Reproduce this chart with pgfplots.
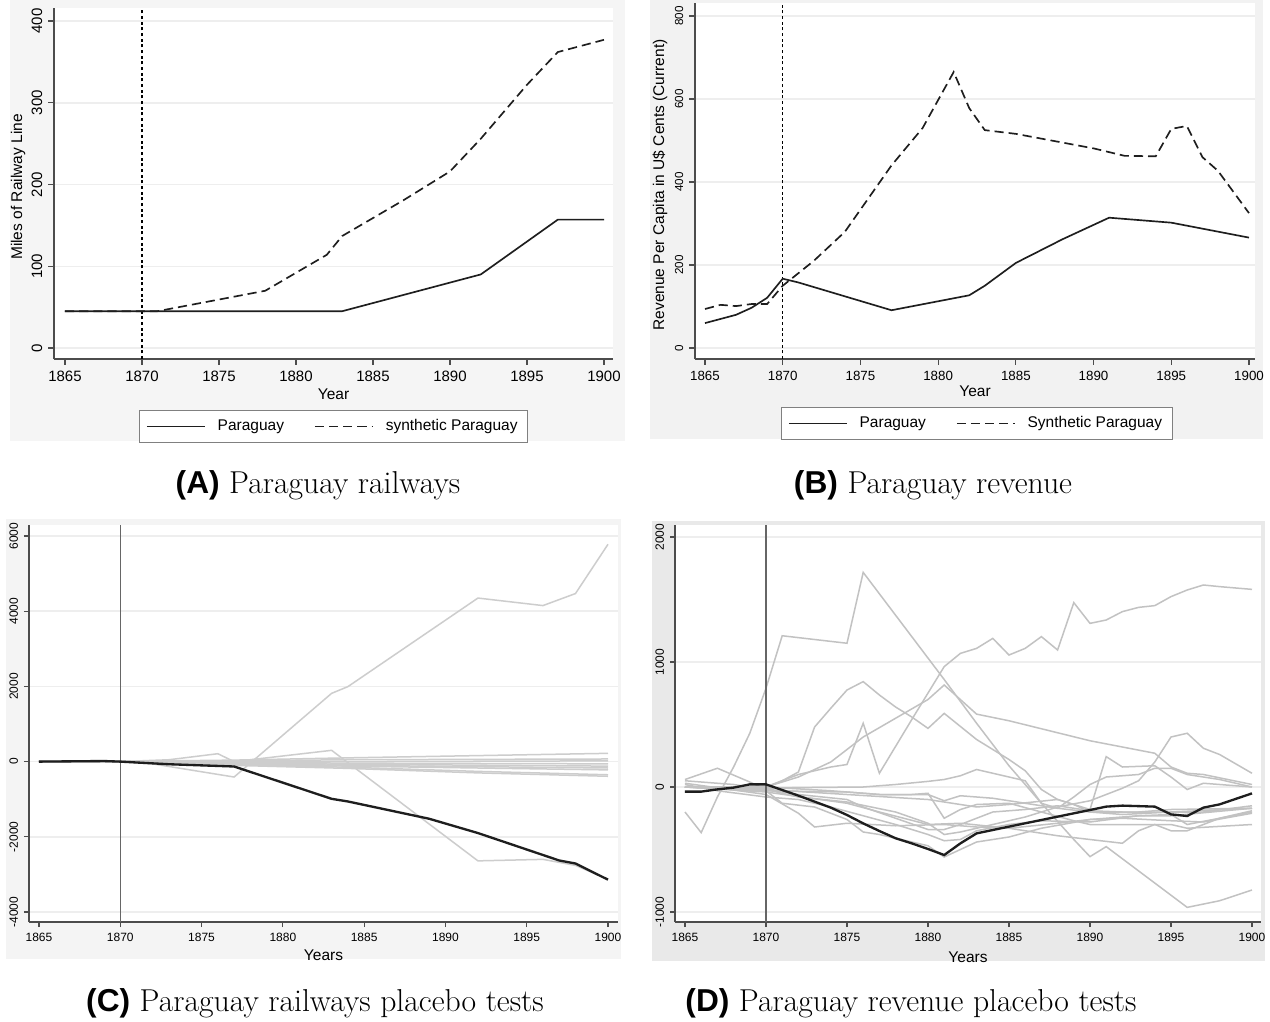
\documentclass[border=0pt]{standalone}
\usepackage{fontspec}
\newfontfamily\arial{Liberation Sans}
\usepackage{pgfplots}
\pgfplotsset{compat=1.18}
\definecolor{bgA}{HTML}{F5F5F5}
\definecolor{bgB}{HTML}{F2F2F2}
\definecolor{bgC}{HTML}{F4F4F4}
\definecolor{bgD}{HTML}{E9E9E9}
\definecolor{gridc}{HTML}{EEEEEE}
\definecolor{linec}{HTML}{1E1E1E}
\definecolor{grayC}{HTML}{CDCDCD}
\definecolor{grayD}{HTML}{C2C2C2}

\pgfplotsset{
  stata/.style={
    scale only axis,
    anchor=south west,
    axis x line*=bottom, axis y line*=left,
    axis line style={black!70, line width=0.7pt, -},
    tick align=outside,
    major tick length=3.5pt,
    tick style={black!70, line width=0.7pt},
    ymajorgrids, grid style={draw=gridc, line width=0.9pt},
    axis background/.style={fill=white},
    xtick={1865,1870,...,1900},
    /pgf/number format/1000 sep={},
    /pgf/number format/assume math mode=true,
    yticklabel style={rotate=90, anchor=south},
    every axis y label/.style={at={(axis description cs:-0.064,0.49)}, anchor=center, rotate=90,
        font=\arial\fontsize{9.3}{11}\selectfont},
    legend image code/.code={\draw[##1] (0pt,0pt) -- (35pt,0pt);},
  },
  xlab/.style={every axis x label/.style={at={(axis description cs:0.5,#1)}, anchor=center,
        font=\arial\fontsize{9.3}{11}\selectfont}},
  stlegend/.style={legend style={at={(axis description cs:#1)}, anchor=north,
        legend columns=2, draw=black!50, line width=0.6pt, fill=white,
        font=\arial\fontsize{9.3}{11}\selectfont, inner xsep=4pt, inner ysep=3.5pt,
        /tikz/every odd column/.append style={column sep=5pt},
        /tikz/every even column/.append style={column sep=16pt}}},
  pline/.style={color=linec, line width=1pt},
  sline/.style={color=linec, line width=1pt, dash pattern=on 5.5pt off 3pt},
  gC/.style={color=grayC, line width=0.9pt},
  gD/.style={color=grayD, line width=0.9pt},
}

\begin{document}
\begin{tikzpicture}[x=0.6pt,y=0.6pt]
% panel backgrounds (picture pixels, origin bottom left)
\fill[bgA] (10,580) rectangle (625,1021);
\fill[bgB] (650,582) rectangle (1263,1021);
\fill[bgC] (6,62) rectangle (621,502);
\fill[bgD] (652,60) rectangle (1265,500);

% (A) railways
\begin{axis}[stata, at={(32.4pt,397.2pt)},
    width=335.4pt, height=210.6pt,
    xmin=1864.286, xmax=1900.584, ymin=-13.46, ymax=415.9,
    ytick={0,100,...,400},
    tick label style={font=\arial\fontsize{9}{10}\selectfont},
    xlabel={Year}, ylabel={Miles of Railway Line}, xlab=-0.10,
    stlegend={0.5,-0.145},
]
\addplot[black, line width=0.8pt, dash pattern=on 1.8pt off 1.6pt, forget plot]
    coordinates {(1870,-13.46) (1870,415.9)};
\addplot[pline] coordinates {
    (1865,45) (1883,45) (1892,90) (1897,157) (1900,157)
};
\addlegendentry{Paraguay}
\addplot[sline] coordinates {
    (1865,45) (1871,45) (1878,70) (1882,114) (1883,137) (1887,181)
    (1890,216) (1892,256) (1895,322) (1897,362) (1900,377)
};
\addlegendentry{synthetic Paraguay}
\end{axis}

% (B) revenue
\begin{axis}[stata, at={(417pt,397.2pt)},
    width=336pt, height=213.6pt,
    xmin=1864.357, xmax=1900.386, ymin=-26.5, ymax=831.3,
    ytick={0,200,...,800},
    xticklabel style={font=\arial\fontsize{8}{9}\selectfont},
    yticklabel style={font=\arial\fontsize{7}{8}\selectfont},
    xlabel={Year}, ylabel={Revenue Per Capita in U\$ Cents (Current)}, xlab=-0.09,
    every axis y label/.style={at={(axis description cs:-0.0625,0.489)}, anchor=center, rotate=90,
        font=\arial\fontsize{9.3}{11}\selectfont},
    stlegend={0.503,-0.135},
]
\addplot[black, line width=0.8pt, dash pattern=on 1.8pt off 1.6pt, forget plot]
    coordinates {(1870,-26.5) (1870,831.3)};
\addplot[pline] coordinates {
    (1865,60) (1866,70) (1867,80) (1868,97) (1869,121) (1870,167) (1871,158)
    (1877,91) (1882,127) (1883,150) (1885,205) (1888,262) (1891,314)
    (1895,302) (1900,266)
};
\addlegendentry{Paraguay}
\addplot[sline] coordinates {
    (1865,94) (1866,104) (1867,101) (1868,106) (1869,106) (1870,150)
    (1872,210) (1874,280) (1877,440) (1879,530) (1881,665) (1882,578)
    (1883,525) (1885,516) (1890,481) (1892,463) (1894,462) (1895,528)
    (1896,535) (1897,460) (1898,427) (1900,325)
};
\addlegendentry{Synthetic Paraguay}
\end{axis}

% (C) railways placebo
\begin{axis}[stata, at={(17.4pt,59.4pt)},
    width=353.4pt, height=238.2pt,
    xmin=1864.385, xmax=1900.615, ymin=-4266, ymax=6293,
    ytick={-4000,-2000,0,2000,4000,6000},
    yticklabels={-4000,-2000,0,2000,4000,6000},
    major tick length=3pt,
    tick label style={font=\arial\fontsize{7.2}{8}\selectfont},
    xlabel={Years}, xlab=-0.083,
]
\addplot[gC] coordinates {(1865,0)(1870,0)(1872,-60)(1877,-410)(1883,1816)(1884,1994)(1892,4350)(1896,4150)(1898,4470)(1900,5780)};
\addplot[gC] coordinates {(1865,0)(1870,0)(1873,50)(1876,210)(1877,0)(1880,150)(1883,300)(1892,-2640)(1896,-2600)(1898,-2760)(1900,-3130)};
\addplot[gC] coordinates {(1865,0)(1870,0)(1873,20)(1877,40)(1884,100)(1900,220)};
\addplot[gC] coordinates {(1865,0)(1870,0)(1877,20)(1884,50)(1900,70)};
\addplot[gC] coordinates {(1865,0)(1870,0)(1884,0)(1900,20)};
\addplot[gC] coordinates {(1865,0)(1870,0)(1877,-20)(1884,-40)(1900,-60)};
\addplot[gC] coordinates {(1865,0)(1870,0)(1884,-70)(1900,-120)};
\addplot[gC] coordinates {(1865,0)(1870,0)(1877,-50)(1884,-100)(1900,-170)};
\addplot[gC] coordinates {(1865,0)(1870,0)(1884,-120)(1900,-220)};
\addplot[gC] coordinates {(1865,0)(1870,0)(1877,-80)(1884,-150)(1892,-260)(1900,-350)};
\addplot[gC] coordinates {(1865,0)(1870,0)(1877,-100)(1884,-180)(1892,-300)(1900,-390)};
\addplot[color=black!60, line width=0.8pt] coordinates {(1870,-4266) (1870,6293)};
\addplot[color=linec, line width=1.4pt] coordinates {
    (1865,0) (1869,15) (1870,0) (1873,-70) (1877,-130) (1880,-560) (1883,-990)
    (1884,-1060) (1889,-1520) (1892,-1900) (1897,-2630) (1898,-2710) (1900,-3140)
};
\end{axis}

% (D) revenue placebo
\begin{axis}[stata, at={(405pt,59.4pt)},
    width=351.6pt, height=238.2pt,
    xmin=1864.383, xmax=1900.556, ymin=-1080, ymax=2096,
    ytick={-1000,0,1000,2000},
    yticklabels={-1000,0,1000,2000},
    major tick length=3pt,
    tick label style={font=\arial\fontsize{7.2}{8}\selectfont},
    xlabel={Years}, xlab=-0.088,
]
\addplot[gD] coordinates {(1865,-200)(1866,-365)(1867,-80)(1868,160)(1869,430)(1870,790)(1871,1210)(1875,1150)(1876,1717)(1881,860)(1883,510)(1885,170)(1886,20)(1887,-130)(1889,-420)(1890,-557)(1891,-477)(1896,-963)(1898,-910)(1900,-824)};
\addplot[gD] coordinates {(1865,0)(1870,0)(1872,100)(1874,160)(1875,180)(1876,510)(1877,110)(1879,540)(1881,963)(1882,1069)(1883,1109)(1884,1189)(1885,1056)(1886,1109)(1887,1203)(1888,1096)(1889,1475)(1890,1309)(1891,1336)(1892,1403)(1893,1437)(1894,1451)(1895,1523)(1896,1576)(1897,1616)(1898,1603)(1900,1581)};
\addplot[gD] coordinates {(1865,0)(1870,0)(1871,50)(1872,120)(1873,480)(1874,630)(1875,776)(1876,843)(1877,736)(1878,640)(1879,560)(1880,469)(1881,589)(1883,380)(1885,220)(1886,130)(1887,-20)(1888,-100)(1889,-140)(1890,-200)(1892,-220)(1895,-200)(1900,-170)};
\addplot[gD] coordinates {(1865,0)(1870,0)(1872,80)(1874,200)(1876,400)(1878,550)(1880,700)(1881,816)(1883,583)(1885,530)(1890,370)(1894,270)(1895,160)(1896,110)(1897,100)(1900,20)};
\addplot[gD] coordinates {(1865,0)(1870,-30)(1871,-130)(1873,-160)(1875,-260)(1876,-360)(1877,-380)(1880,-470)(1881,-560)(1882,-500)(1883,-440)(1885,-400)(1887,-330)(1890,-260)(1893,-230)(1895,-220)(1896,-300)(1898,-250)(1900,-190)};
\addplot[gD] coordinates {(1865,30)(1870,-60)(1872,-210)(1873,-320)(1875,-290)(1878,-310)(1881,-300)(1883,-320)(1885,-330)(1888,-290)(1890,-260)(1892,-250)(1895,-270)(1897,-280)(1900,-210)};
\addplot[gD] coordinates {(1865,0)(1870,0)(1874,-30)(1877,-60)(1879,-60)(1880,-50)(1881,-250)(1882,-180)(1883,-140)(1885,-130)(1887,-200)(1889,-270)(1890,-300)(1892,-300)(1895,-300)(1896,-330)(1900,-300)};
\addplot[gD] coordinates {(1865,20)(1867,-30)(1870,-80)(1872,-100)(1874,-160)(1876,-230)(1878,-300)(1880,-380)(1881,-430)(1882,-420)(1883,-350)(1885,-300)(1887,-270)(1890,-280)(1893,-230)(1895,-230)(1900,-170)};
\addplot[gD] coordinates {(1865,50)(1866,40)(1868,20)(1870,-20)(1872,-60)(1875,-100)(1876,-160)(1878,-250)(1880,-340)(1881,-340)(1882,-300)(1884,-200)(1886,-180)(1888,-150)(1890,-190)(1892,-200)(1895,-200)(1897,-200)(1900,-150)};
\addplot[gD] coordinates {(1865,0)(1870,-40)(1875,-130)(1877,-200)(1880,-300)(1882,-290)(1885,-330)(1888,-390)(1890,-420)(1892,-450)(1893,-350)(1894,-300)(1895,-350)(1896,-350)(1898,-250)(1900,-200)};
\addplot[gD] coordinates {(1865,0)(1870,-30)(1875,-40)(1877,-60)(1880,-60)(1881,-110)(1882,-70)(1884,-90)(1886,-130)(1888,-170)(1890,-200)(1893,-200)(1895,-180)(1900,-170)};
\addplot[gD] coordinates {(1865,0)(1870,-10)(1872,-5)(1876,0)(1878,20)(1880,45)(1881,60)(1882,90)(1883,140)(1885,80)(1886,50)(1887,-130)(1888,-170)(1889,-80)(1890,20)(1891,80)(1893,100)(1894,150)(1895,150)(1896,100)(1898,60)(1900,0)};
\addplot[gD] coordinates {(1865,60)(1867,150)(1869,40)(1870,-20)(1872,-80)(1875,-120)(1878,-200)(1880,-290)(1881,-380)(1882,-360)(1884,-300)(1886,-240)(1888,-160)(1890,-110)(1892,-10)(1893,50)(1894,200)(1895,400)(1896,430)(1897,310)(1898,260)(1900,110)};
\addplot[gD] coordinates {(1865,0)(1870,-20)(1875,-60)(1880,-100)(1883,-160)(1885,-140)(1888,-100)(1890,-180)(1891,243)(1892,160)(1894,170)(1895,80)(1896,-20)(1897,30)(1900,0)};
\addplot[color=black!60, line width=0.8pt] coordinates {(1870,-1080) (1870,2096)};
\addplot[color=linec, line width=1.4pt] coordinates {
    (1865,-37) (1866,-37) (1867,-19) (1868,-5) (1869,21) (1870,21) (1871,-24)
    (1872,-69) (1873,-117) (1874,-165) (1875,-224) (1876,-291) (1877,-352)
    (1878,-410) (1879,-451) (1880,-496) (1881,-544) (1882,-451) (1883,-371)
    (1884,-344) (1885,-317) (1890,-184) (1891,-157) (1892,-149) (1894,-157)
    (1895,-219) (1896,-232) (1897,-165) (1898,-139) (1900,-51)
};
\end{axis}

% captions
\node[font=\fontsize{19}{21}\selectfont] at (318,536) {{\arial\bfseries (A)} Paraguay railways};
\node[font=\fontsize{19}{21}\selectfont] at (933,536) {{\arial\bfseries (B)} Paraguay revenue};
\node[font=\fontsize{19}{21}\selectfont] at (315,18) {{\arial\bfseries (C)} Paraguay railways placebo tests};
\node[font=\fontsize{19}{21}\selectfont] at (911,18) {{\arial\bfseries (D)} Paraguay revenue placebo tests};

\pgfresetboundingbox
\path (0,0) rectangle (1270,1021);
\end{tikzpicture}
\end{document}
